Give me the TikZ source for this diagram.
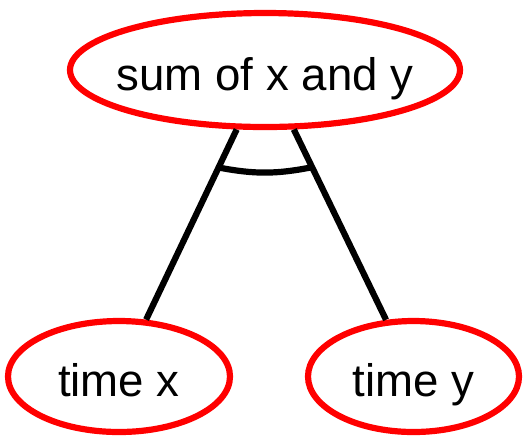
\documentclass[tikz,border=0pt]{standalone}
\usepackage{fontspec}
\setmainfont{Liberation Sans}
\usetikzlibrary{shapes.geometric, calc}
\definecolor{gred}{HTML}{FF0000}
\tikzset{
  goal/.style={ellipse, draw=gred, line width=3.1pt, inner sep=0pt,
               text height=20pt, text depth=0pt,
               font=\fontsize{22.8}{27}\selectfont},
  edge/.style={draw=black, line width=3.1pt},
}
\newcommand{\goaltext}[1]{\makebox[0pt]{#1}}
\begin{document}
\begin{tikzpicture}[x=0.5pt, y=-0.5pt]
  \useasboundingbox (0,0) rectangle (523,436);
  \node[goal, minimum width=195pt, minimum height=57pt] (sum) at (265,70) {\goaltext{sum of x and y}};
  \node[goal, minimum width=111pt, minimum height=55.5pt] (timex) at (119,376.5) {\goaltext{time x}};
  \node[goal, minimum width=105.5pt, minimum height=55.5pt] (timey) at (413.5,376.5) {\goaltext{time y}};

  \draw[edge] (sum) -- (timex);
  \draw[edge] (sum) -- (timey);
  % and-arc
  \coordinate (andL) at ($(sum.center)!54pt!(timex.center)$);
  \coordinate (andR) at ($(sum.center)!54pt!(timey.center)$);
  \draw[edge] (andL) to[bend right=11] (andR);
\end{tikzpicture}
\end{document}
